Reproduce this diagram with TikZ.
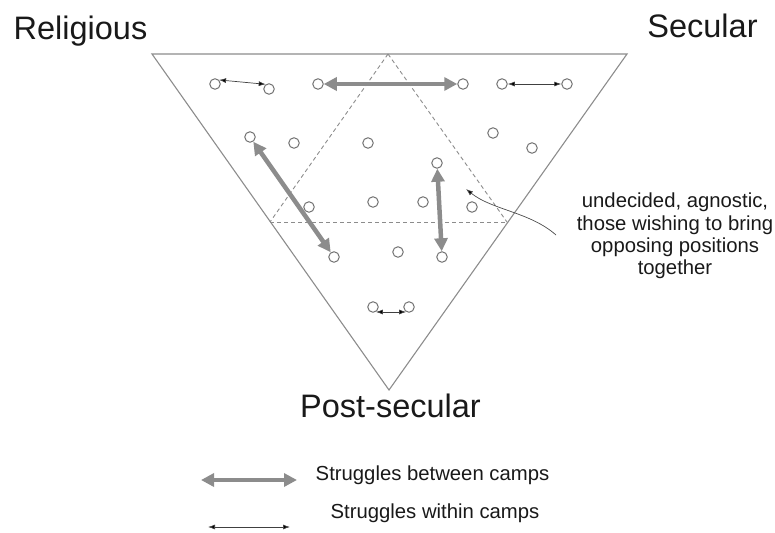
\documentclass[tikz,border=0pt]{standalone}
\usepackage{fontspec}
\setmainfont{Liberation Sans}
\usetikzlibrary{arrows.meta}
\definecolor{framegray}{gray}{0.55}
\definecolor{circgray}{gray}{0.45}
\definecolor{thickgray}{gray}{0.55}
\definecolor{txt}{gray}{0.1}
\tikzset{
  posnode/.style={circle,draw=circgray,fill=white,line width=1pt,minimum size=10.5pt,inner sep=0pt},
  between/.style={draw=thickgray,line width=4.5pt,{Triangle[length=13pt,width=13pt]}-{Triangle[length=13pt,width=13pt]}},
  within/.style={draw=black!75,line width=0.7pt,{Latex[length=7pt,width=5pt,fill=black]}-{Latex[length=7pt,width=5pt,fill=black]}},
  frame/.style={draw=framegray,line width=1.1pt},
  split/.style={draw=framegray,line width=0.9pt,dash pattern=on 4pt off 3pt},
  biglabel/.style={font=\fontsize{32.5}{36}\selectfont,text=txt,inner sep=0pt,anchor=base},
  smalllabel/.style={font=\fontsize{20.3}{22.2}\selectfont,text=txt,inner sep=0pt},
}
\begin{document}
\begin{tikzpicture}[x=1pt,y=-1pt]
\useasboundingbox (0,0) rectangle (775,532);
% outer triangle
\coordinate (A) at (152,54);
\coordinate (B) at (627,54);
\coordinate (C) at (389,390);
\draw[frame,line join=miter] (A) -- (B) -- (C) -- cycle;
% inner dashed triangle
\coordinate (D) at (388,54);
\coordinate (L) at (270,222);
\coordinate (R) at (507,222);
\draw[split] (D) -- (L);
\draw[split] (D) -- (R);
\draw[split] (L) -- (R);
% positions
\node[posnode] (p1) at (215,84) {};
\node[posnode] (p2) at (269,89) {};
\node[posnode] (p3) at (318,84) {};
\node[posnode] (p4) at (463,84) {};
\node[posnode] (p5) at (502,84) {};
\node[posnode] (p6) at (567,84) {};
\node[posnode] (p7) at (250,137) {};
\node[posnode] (p8) at (294,143) {};
\node[posnode] (p9) at (368,143) {};
\node[posnode] (p10) at (493,133) {};
\node[posnode] (p11) at (532,148) {};
\node[posnode] (p12) at (437,163) {};
\node[posnode] (p13) at (309,207) {};
\node[posnode] (p14) at (373,202) {};
\node[posnode] (p15) at (423,202) {};
\node[posnode] (p16) at (472,207) {};
\node[posnode] (p17) at (334,257) {};
\node[posnode] (p18) at (398,252) {};
\node[posnode] (p19) at (442,257) {};
\node[posnode] (p20) at (373,307) {};
\node[posnode] (p21) at (409,307) {};
% struggles
\draw[within] (p1.45) -- (p2.125);
\draw[between] (p3) -- (p4);
\draw[within] (p5) -- (p6);
\draw[between] (p7) -- (p17);
\draw[between] (p12) -- (p19);
\draw[within] (p20.-60) -- (p21.240);
% labels
\node[biglabel] (rel) at (80.5,40) {Religious};
\node[biglabel] (sec) at (702.5,38) {Secular};
\node[biglabel] (post) at (390.5,417) {Post-secular};
% annotation
\node[smalllabel,align=center,anchor=north] (note) at (675,193) {undecided, agnostic,\\those wishing to bring\\opposing positions\\together};
\coordinate (nstart) at (556,235);
\coordinate (ntip) at (466,189);
\draw[draw=black!70,line width=0.7pt,-{Latex[length=7pt,width=5pt,fill=black]}] (nstart) .. controls (530,212) and (492,210) .. (ntip);
% legend
\coordinate (l1a) at (201,480);
\coordinate (l1b) at (297,480);
\coordinate (l2a) at (208,527);
\coordinate (l2b) at (290,527);
\draw[between] (l1a) -- (l1b);
\draw[within] (l2a) -- (l2b);
\node[smalllabel,anchor=base] (leg1) at (432.5,480) {Struggles between camps};
\node[smalllabel,anchor=base] (leg2) at (435,518) {Struggles within camps};
\end{tikzpicture}
\end{document}
